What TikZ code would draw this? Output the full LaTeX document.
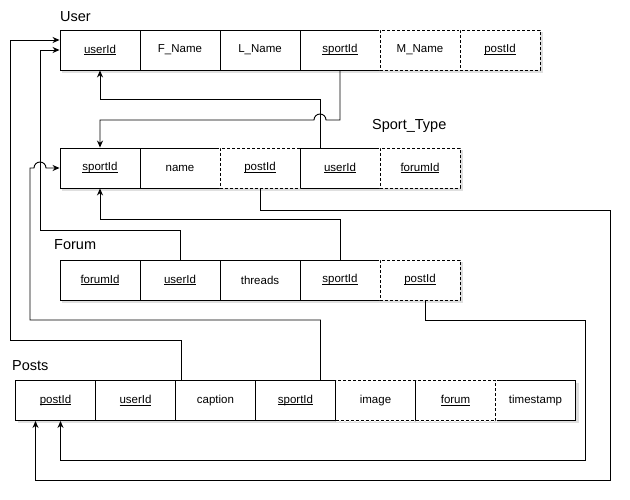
\documentclass[tikz,border=0pt]{standalone}
\usepackage{fontspec}
\setmainfont{Liberation Sans}
\usetikzlibrary{arrows.meta}
\newsavebox\myulbox
\newcommand{\myul}[1]{\sbox\myulbox{#1}\rlap{\rule[-1.7pt]{\wd\myulbox}{0.75pt}}\usebox\myulbox}
\begin{document}
\begin{tikzpicture}[x=1pt,y=-1pt,
  cell/.style={draw, fill=white, minimum width=80pt, minimum height=40pt, inner sep=0pt,
    font=\fontsize{11.5}{13}\selectfont, line width=0.9pt},
  dcell/.style={cell, dash pattern=on 3pt off 2pt, preaction={draw=white, line width=2pt}},
  lbl/.style={anchor=west, inner sep=0pt, font=\fontsize{14.5}{16}\selectfont},
  shadowbox/.style={fill=black!35, opacity=0.35},
  conn/.style={draw, line width=0.9pt, -{Stealth[length=7pt,width=6pt]}}
]
\useasboundingbox (0,0) rectangle (630,500);
\fill[white] (0,0) rectangle (630,500);

% ---------- User ----------
\node[lbl] (luser) at (60,17) {User};
\fill[shadowbox] (62,32) rectangle (543,73);
\node[cell] (uuser) at (100,50) {\myul{userId}};
\node[cell] (ufn)   at (180,50) {F\_Name};
\node[cell] (uln)   at (260,50) {L\_Name};
\node[cell] (usport) at (340,50) {\myul{sportId}};
\node[dcell] (umn)  at (420,50) {M\_Name};
\node[dcell] (upost) at (500,50) {\myul{postId}};

% ---------- Sport_Type ----------
\node[lbl] (lsport) at (372,126) {Sport\_Type};
\fill[shadowbox] (62,150) rectangle (463,191);
\node[cell] (ssport) at (100,168) {\myul{sportId}};
\node[cell] (sname)  at (180,168) {name};
\node[cell] (suser)  at (340,168) {\myul{userId}};
\node[dcell] (spost) at (260,168) {\myul{postId}};
\node[dcell] (sforum) at (420,168) {\myul{forumId}};

% ---------- Forum ----------
\node[lbl] (lforum) at (54,245) {Forum};
\fill[shadowbox] (62,262) rectangle (463,303);
\node[cell] (fforum) at (100,280) {\myul{forumId}};
\node[cell] (fuser)  at (180,280) {\myul{userId}};
\node[cell] (fthr)   at (260,280) {threads};
\node[cell] (fsport) at (340,280) {\myul{sportId}};
\node[dcell] (fpost) at (420,280) {\myul{postId}};

% ---------- Posts ----------
\node[lbl] (lposts) at (12,366) {Posts};
\fill[shadowbox] (17.5,382.5) rectangle (578.5,423);
\node[cell] (ppost)  at (55.5,400.5) {\myul{postId}};
\node[cell] (puser)  at (135.5,400.5) {\myul{userId}};
\node[cell] (pcap)   at (215.5,400.5) {caption};
\node[cell] (psport) at (295.5,400.5) {\myul{sportId}};
\node[cell] (ptime)  at (535.5,400.5) {timestamp};
\node[dcell] (pimg)  at (375.5,400.5) {image};
\node[dcell] (pforum) at (455.5,400.5) {\myul{forum}};

% ---------- connectors ----------
% Posts -> User.userId
\draw[conn] ([xshift=5pt]puser.north east) |- (10,340) |- ([yshift=10pt]uuser.west);
% Forum.userId -> User.userId
\draw[conn] (fuser.north) |- (40,230) |- (uuser.west);
% User.sportId -> Sport_Type.sportId (with hop)
\draw[conn] (usport.south) |- (326,120) arc[start angle=0, end angle=180, radius=6pt] -| (ssport.north);
% Sport_Type.userId -> User.userId
\draw[conn] ([xshift=-20pt]suser.north) -- ++(0,-48) -| (uuser.south);
% Posts.sportId -> Sport_Type.sportId (with hop)
\draw[conn] ([xshift=25pt]psport.north) |- (30,320) |- (34,168) arc[start angle=180, end angle=0, radius=6pt] -- (ssport.west);
% Forum.sportId -> Sport_Type.sportId
\draw[conn] (fsport.north) -- ++(0,-40) -| (ssport.south);
% Sport_Type.postId -> Posts.postId
\draw[conn] (spost.south) |- (610,210) -- (610,480) -| ([xshift=-20pt]ppost.south);
% Forum.postId -> Posts.postId
\draw[conn] ([xshift=5pt]fpost.south) |- (585,320) -- (585,460) -| ([xshift=5pt]ppost.south);
\end{tikzpicture}
\end{document}
